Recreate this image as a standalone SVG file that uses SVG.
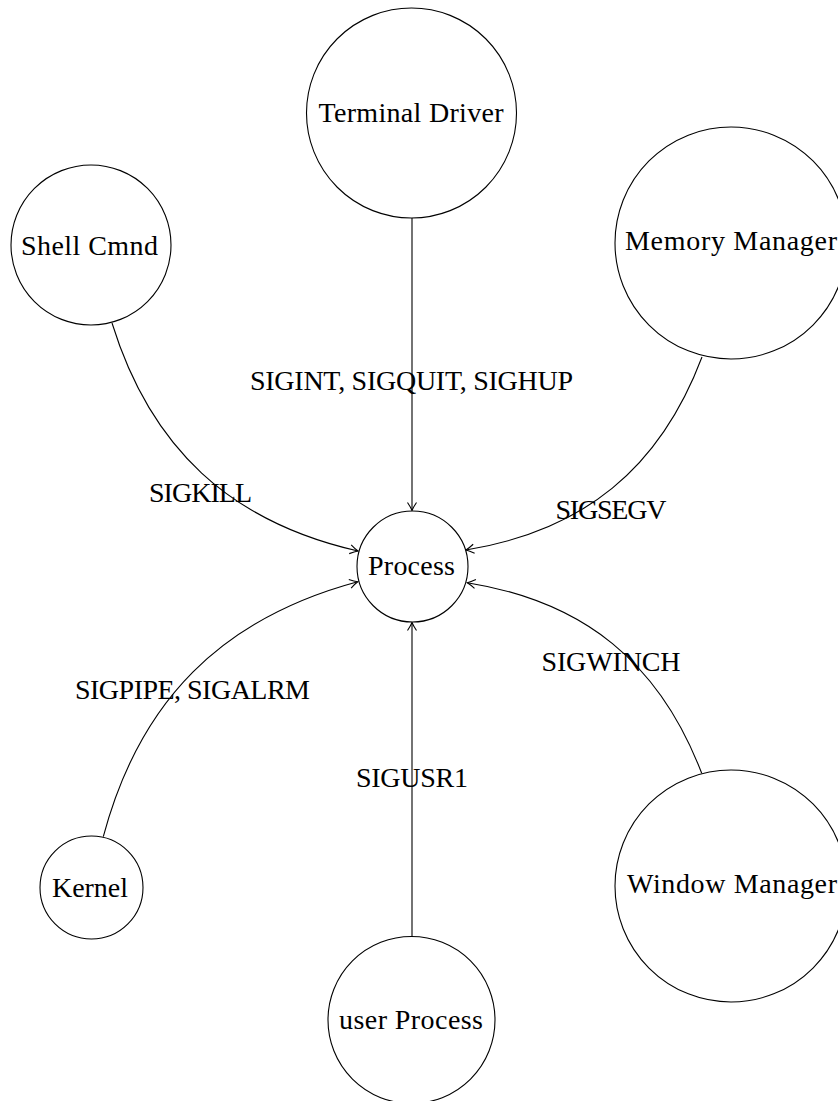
<svg xmlns="http://www.w3.org/2000/svg" width="838" height="1101" viewBox="0 0 838 1101">
<style>
  .node circle { fill: #ffffff; stroke: #000000; stroke-width: 1.1; }
  .lbl { font-family: "Liberation Serif", "Times New Roman", serif; font-size: 28px; fill: #000000; text-anchor: middle; }
  .edge { fill: none; stroke: #000000; stroke-width: 1.1; marker-end: url(#arr); }
</style>
<defs>
  <marker id="arr" viewBox="-10 -6 12 12" refX="0" refY="0" markerWidth="12" markerHeight="12" markerUnits="userSpaceOnUse" orient="auto">
    <path d="M -8 -4.5 C -5 -2.5 -2 -0.8 0 0 C -2 0.8 -5 2.5 -8 4.5" fill="none" stroke="#000000" stroke-width="1.1"/>
  </marker>
</defs>
<rect x="0" y="0" width="838" height="1101" fill="#ffffff"/>

<g id="connectors">
  <path class="edge" d="M 412 218 L 412 510.5"/>
  <path class="edge" d="M 112 323 C 150.7 448.1 230.3 522 358 551"/>
  <path class="edge" d="M 702 357 C 659.8 468.7 583.8 530.7 466 550"/>
  <path class="edge" d="M 103.3 836.7 C 139.6 700.4 221.6 618.4 357.7 581.7"/>
  <path class="edge" d="M 701.7 773.3 C 659.5 662.8 584.1 601.4 467.3 582.7"/>
  <path class="edge" d="M 412 936.5 L 412 622.5"/>
</g>

<g id="edge-labels">
  <text class="lbl" x="411.5" y="390" textLength="323" lengthAdjust="spacing">SIGINT, SIGQUIT, SIGHUP</text>
  <text class="lbl" x="200.5" y="502" textLength="103" lengthAdjust="spacing">SIGKILL</text>
  <text class="lbl" x="611" y="519" textLength="111" lengthAdjust="spacing">SIGSEGV</text>
  <text class="lbl" x="192.5" y="699" textLength="235" lengthAdjust="spacing">SIGPIPE, SIGALRM</text>
  <text class="lbl" x="611" y="671" textLength="139" lengthAdjust="spacing">SIGWINCH</text>
  <text class="lbl" x="412" y="787" textLength="112" lengthAdjust="spacing">SIGUSR1</text>
</g>

<g id="terminal-driver" class="node">
  <circle cx="411.5" cy="113" r="105"/>
  <text class="lbl" x="411" y="122" textLength="185" lengthAdjust="spacing">Terminal Driver</text>
</g>
<g id="shell-cmnd" class="node">
  <circle cx="91" cy="245" r="80"/>
  <text class="lbl" x="89.5" y="255" textLength="137" lengthAdjust="spacing">Shell Cmnd</text>
</g>
<g id="memory-manager" class="node">
  <circle cx="731" cy="243" r="116"/>
  <text class="lbl" x="731" y="250" textLength="212" lengthAdjust="spacing">Memory Manager</text>
</g>
<g id="process" class="node">
  <circle cx="412.5" cy="566.5" r="55.5"/>
  <text class="lbl" x="411.5" y="575" textLength="87" lengthAdjust="spacing">Process</text>
</g>
<g id="kernel" class="node">
  <circle cx="91.5" cy="887.5" r="51.5"/>
  <text class="lbl" x="90" y="897" textLength="76" lengthAdjust="spacing">Kernel</text>
</g>
<g id="window-manager" class="node">
  <circle cx="731" cy="886" r="116"/>
  <text class="lbl" x="732" y="893" textLength="210" lengthAdjust="spacing">Window Manager</text>
</g>
<g id="user-process" class="node">
  <circle cx="411.5" cy="1020" r="83.5"/>
  <text class="lbl" x="411" y="1029" textLength="144" lengthAdjust="spacing">user Process</text>
</g>
</svg>
